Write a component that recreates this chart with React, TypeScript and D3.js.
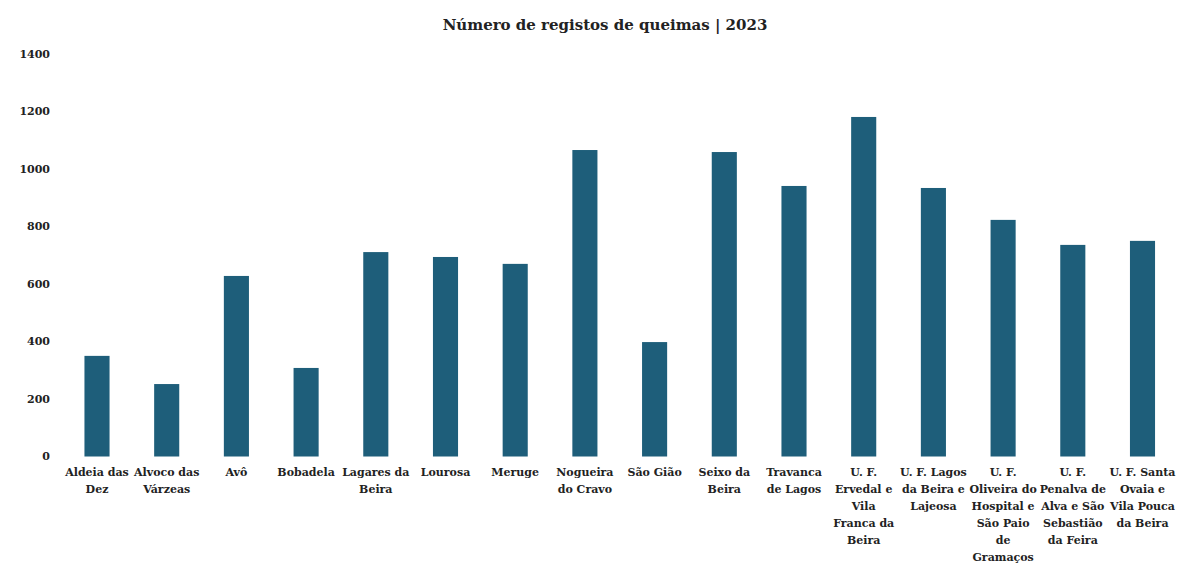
import React from "react";
import * as d3 from "d3";

const categories: string[] = [
  "Aldeia das Dez",
  "Alvoco das Várzeas",
  "Avô",
  "Bobadela",
  "Lagares da Beira",
  "Lourosa",
  "Meruge",
  "Nogueira do Cravo",
  "São Gião",
  "Seixo da Beira",
  "Travanca de Lagos",
  "U. F. Ervedal e Vila Franca da Beira",
  "U. F. Lagos da Beira e Lajeosa",
  "U. F. Oliveira do Hospital e São Paio de Gramaços",
  "U. F. Penalva de Alva e São Sebastião da Feira",
  "U. F. Santa Ovaia e Vila Pouca da Beira",
];

const registos: number[] = [350, 252, 628, 308, 711, 694, 670, 1066, 398, 1059, 941, 1181, 934, 823, 736, 750];

const yTicks: number[] = [0, 200, 400, 600, 800, 1000, 1200, 1400];

const title = "Número de registos de queimas | 2023";

const W = 1179;
const H = 586;
const FONT = "'DejaVu Serif', 'Liberation Serif', serif";
const BAR = "#1e5e7a";

function wrap(text: string, maxW: number, font: string): string[] {
  const canvas = document.createElement("canvas");
  const ctx = canvas.getContext("2d")!;
  ctx.font = font;
  const words = text.split(" ");
  const lines: string[] = [];
  let cur = "";
  for (const w of words) {
    const test = cur ? cur + " " + w : w;
    if (ctx.measureText(test).width <= maxW || !cur) cur = test;
    else {
      lines.push(cur);
      cur = w;
    }
  }
  if (cur) lines.push(cur);
  return lines;
}

export default function App() {
  const x = d3
    .scaleBand<string>()
    .domain(categories)
    .range([62.15, 1177.35])
    .paddingInner(0.64)
    .paddingOuter(0.32);
  const y = d3.scaleLinear().domain([0, 1400]).range([456.5, 54]);

  return (
    <svg
      width={W}
      height={H}
      style={{ position: "absolute", left: 0, top: 0, background: "#fff" }}
    >
      <rect x={0} y={0} width={W} height={H} fill="#fff" />
      <text
        x={605}
        y={30}
        textAnchor="middle"
        fontFamily={FONT}
        fontWeight="bold"
        fontSize={15}
        fill="#222"
      >
        {title}
      </text>
      {yTicks.map((t) => (
        <text
          key={t}
          x={50}
          y={y(t)}
          dy="0.35em"
          textAnchor="end"
          fontFamily={FONT}
          fontWeight="bold"
          fontSize={11}
          fill="#222"
        >
          {t}
        </text>
      ))}
      {categories.map((c, i) => (
        <rect
          key={c}
          x={x(c)!}
          y={y(registos[i])}
          width={x.bandwidth()}
          height={y(0) - y(registos[i])}
          fill={BAR}
        />
      ))}
      {categories.map((c) => {
        const lines = wrap(c, 68, `bold 11px ${FONT}`);
        const cx = x(c)! + x.bandwidth() / 2;
        return (
          <text
            key={c}
            x={cx}
            y={476}
            textAnchor="middle"
            fontFamily={FONT}
            fontWeight="bold"
            fontSize={11}
            fill="#222"
          >
            {lines.map((l, j) => (
              <tspan key={j} x={cx} y={476 + j * 17}>
                {l}
              </tspan>
            ))}
          </text>
        );
      })}
    </svg>
  );
}
